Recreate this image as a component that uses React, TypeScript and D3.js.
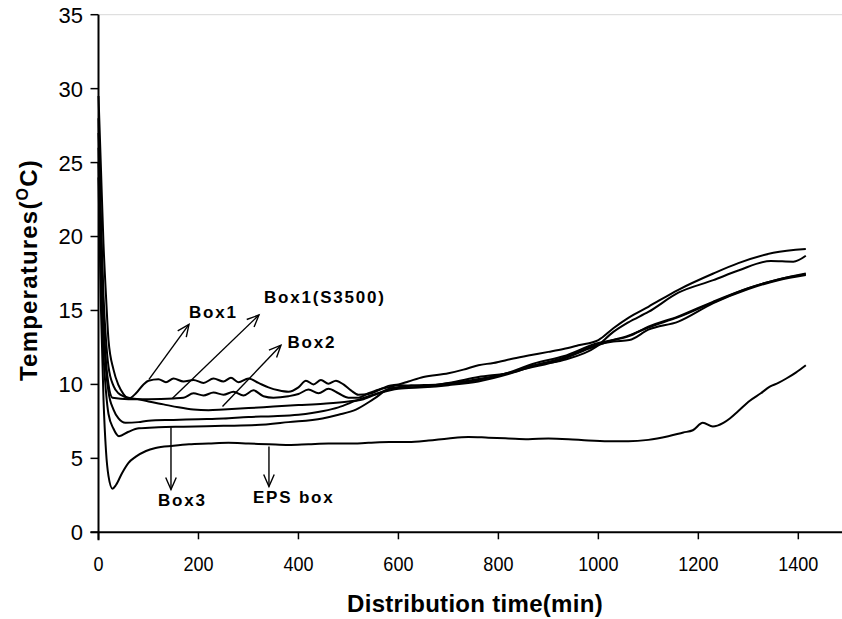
import React from 'react';
import * as d3 from 'd3';

type P = [number, number];

const xTicks = [0, 200, 400, 600, 800, 1000, 1200, 1400];
const yTicks = [0, 5, 10, 15, 20, 25, 30, 35];

const box1: P[] = [
  [0, 29.5], [5, 24.5], [10, 19.5], [15, 16], [20, 13], [30, 11], [40, 9.95], [50, 9.35], [60, 9.05],
  [75, 9.4], [90, 10.0], [100, 10.25], [120, 10.35], [135, 10.15], [150, 10.4], [170, 10.2],
  [190, 10.3], [210, 10.1], [230, 10.4], [250, 10.2], [265, 10.45], [280, 10.15], [300, 10.4],
  [320, 10.1], [340, 9.8], [360, 9.6], [380, 9.5], [400, 9.8], [415, 10.25], [430, 10.0],
  [445, 10.3], [460, 10.05], [475, 10.25], [490, 10.0], [505, 9.6], [520, 9.3], [540, 9.35],
  [560, 9.6], [580, 9.9], [600, 10.0], [620, 10.2], [650, 10.5], [700, 10.75], [730, 11.0],
  [760, 11.3], [790, 11.45], [830, 11.75], [860, 11.95], [900, 12.2], [930, 12.4], [960, 12.65],
  [1000, 13.0], [1030, 13.8], [1060, 14.5], [1100, 15.25], [1160, 16.4], [1230, 17.5],
  [1280, 18.2], [1350, 18.9], [1415, 19.15],
];

const box1S3500: P[] = [
  [0, 28], [5, 20], [10, 14.5], [15, 11.5], [20, 10.0], [28, 9.1], [60, 9.0], [100, 9.0],
  [150, 9.05], [170, 9.1], [190, 9.4], [210, 9.25], [230, 9.45], [250, 9.3], [270, 9.5],
  [290, 9.25], [310, 9.6], [330, 9.2], [350, 9.1], [380, 9.2], [400, 9.35], [420, 9.65],
  [440, 9.4], [460, 9.7], [480, 9.4], [500, 9.1], [520, 9.1], [540, 9.4], [560, 9.65],
  [580, 9.8], [600, 9.95], [650, 9.9], [700, 10.1], [760, 10.5], [830, 10.85], [860, 11.2],
  [930, 11.65], [996, 12.55], [1030, 13.55], [1060, 14.2], [1100, 14.9], [1160, 16.2],
  [1230, 17.05], [1280, 17.7], [1345, 18.35], [1390, 18.3], [1415, 18.7],
];

const box2: P[] = [
  [0, 27], [5, 21], [10, 16], [15, 13], [20, 11.2], [30, 9.9], [40, 9.4], [50, 9.2], [60, 9.1],
  [80, 9.0], [100, 8.85], [130, 8.65], [160, 8.45], [190, 8.3], [220, 8.25], [250, 8.3],
  [300, 8.4], [350, 8.5], [400, 8.6], [450, 8.7], [500, 8.85], [530, 9.0], [560, 9.4],
  [590, 9.75], [620, 9.8], [650, 9.85], [700, 10.0], [760, 10.3], [820, 10.8], [870, 11.4],
  [930, 11.9], [1000, 12.8], [1030, 13.0], [1060, 13.25], [1100, 13.9], [1160, 14.6],
  [1230, 15.6], [1300, 16.5], [1360, 17.1], [1415, 17.45],
];

const box4: P[] = [
  [0, 26], [5, 19], [10, 14], [15, 11], [20, 9.5], [30, 8.3], [40, 7.7], [54, 7.4], [80, 7.45],
  [100, 7.55], [150, 7.6], [200, 7.65], [250, 7.7], [300, 7.8], [350, 7.85], [400, 7.95],
  [450, 8.2], [480, 8.45], [515, 8.9], [540, 9.2], [560, 9.4], [600, 9.7], [650, 9.8],
  [700, 9.95], [760, 10.2], [820, 10.7], [870, 11.25], [930, 11.8], [1000, 12.7], [1030, 12.9],
  [1062, 13.0], [1100, 13.7], [1160, 14.25], [1230, 15.5], [1300, 16.45], [1360, 17.05],
  [1415, 17.4],
];

const box3: P[] = [
  [0, 25], [5, 17], [10, 12], [15, 9.5], [20, 8.0], [30, 7.0], [41, 6.5], [60, 6.8], [81, 7.03],
  [120, 7.1], [170, 7.14], [250, 7.2], [315, 7.25], [380, 7.45], [448, 7.7], [480, 7.95],
  [515, 8.3], [550, 9.0], [582, 9.7], [620, 9.9], [680, 10.0], [740, 10.25], [800, 10.6],
  [860, 11.1], [920, 11.6], [980, 12.4], [1020, 12.9], [1060, 13.3], [1100, 13.85],
  [1160, 14.55], [1230, 15.55], [1300, 16.5], [1360, 17.1], [1415, 17.5],
];

const epsBox: P[] = [
  [0, 24], [5, 15], [10, 9], [15, 5.5], [20, 3.8], [28, 2.95], [35, 3.2], [47, 4.0], [60, 4.7],
  [74, 5.1], [95, 5.5], [114, 5.7], [150, 5.85], [181, 5.95], [220, 6.0], [260, 6.05],
  [300, 6.0], [341, 5.95], [380, 5.9], [420, 5.95], [460, 6.0], [500, 6.0], [540, 6.05],
  [582, 6.1], [620, 6.1], [660, 6.2], [700, 6.35], [740, 6.45], [780, 6.4], [820, 6.35],
  [860, 6.3], [900, 6.35], [940, 6.3], [980, 6.2], [1020, 6.15], [1060, 6.15], [1100, 6.25],
  [1140, 6.5], [1170, 6.75], [1189, 6.9], [1209, 7.4], [1229, 7.15], [1250, 7.4], [1263, 7.7],
  [1280, 8.2], [1303, 8.9], [1325, 9.4], [1343, 9.85], [1360, 10.1], [1376, 10.4],
  [1395, 10.8], [1415, 11.3],
];

const seriesList: P[][] = [box1, box1S3500, box2, box4, box3, epsBox];

const arrowList = [
  { t1: 101, v1: 10.34, t2: 181, v2: 14.06 },
  { t1: 148, v1: 9.06, t2: 321, v2: 14.69 },
  { t1: 248, v1: 8.5, t2: 365, v2: 12.65 },
  { t1: 145, v1: 7.1, t2: 145, v2: 2.9 },
  { t1: 341, v1: 5.8, t2: 341, v2: 3.1 },
];

const labelList = [
  { text: 'Box1', t: 181, v: 14.5 },
  { text: 'Box1(S3500)', t: 331, v: 15.5 },
  { text: 'Box2', t: 378, v: 12.45 },
  { text: 'Box3', t: 119, v: 1.8 },
  { text: 'EPS box', t: 309, v: 1.95 },
];

export default function App() {
  const x = d3.scaleLinear().domain([0, 1500]).range([98.5, 848.3]);
  const y = d3.scaleLinear().domain([0, 35]).range([532.3, 14.7]);
  const line = d3
    .line<P>()
    .x((d) => x(d[0]))
    .y((d) => y(d[1]))
    .curve(d3.curveMonotoneX);

  const font = 'Arial, "Liberation Sans", sans-serif';
  const headLen = 13;
  const phi = (24 * Math.PI) / 180;

  return (
    <svg
      width={842}
      height={619}
      style={{ position: 'absolute', left: 0, top: 0, background: '#fff' }}
      fontFamily={font}
    >
      <rect x={0} y={0} width={842} height={619} fill="#fff" />
      <line x1={x(0)} x2={842} y1={y(35)} y2={y(35)} stroke="#d8d8d8" strokeWidth={1} />
      <line x1={x(0)} x2={x(0)} y1={y(35)} y2={y(0) + 8} stroke="#000" strokeWidth={2} />
      <line x1={x(0) - 8} x2={842} y1={y(0)} y2={y(0)} stroke="#000" strokeWidth={2} />
      {yTicks.map((v) => (
        <g key={'y' + v}>
          <line x1={x(0) - 8} x2={x(0)} y1={y(v)} y2={y(v)} stroke="#000" strokeWidth={1.5} />
          <text x={83} y={y(v)} dy="0.36em" textAnchor="end" fontSize={22} fill="#000">
            {v}
          </text>
        </g>
      ))}
      {xTicks.map((v) => (
        <g key={'x' + v}>
          <line x1={x(v)} x2={x(v)} y1={y(0)} y2={y(0) + 7} stroke="#000" strokeWidth={1.5} />
          <text
            transform={`translate(${x(v)},571) scale(0.86,1)`}
            textAnchor="middle"
            fontSize={21}
            fill="#000"
          >
            {v}
          </text>
        </g>
      ))}
      <text x={475} y={612} textAnchor="middle" fontSize={24} fontWeight="bold" letterSpacing={0.3} fill="#000">
        Distribution time(min)
      </text>
      <text
        transform="translate(37,270) rotate(-90)"
        textAnchor="middle"
        fontSize={24}
        fontWeight="bold"
        letterSpacing={1.2}
        fill="#000"
      >
        Temperatures(
        <tspan fontSize={16} dy={-9}>O</tspan>
        <tspan dy={9}>C)</tspan>
      </text>
      {seriesList.map((s, i) => (
        <path key={'s' + i} d={line(s) || ''} fill="none" stroke="#000" strokeWidth={2} strokeLinejoin="round" />
      ))}
      {arrowList.map((a, i) => {
        const x1 = x(a.t1), y1 = y(a.v1), x2 = x(a.t2), y2 = y(a.v2);
        const ang = Math.atan2(y2 - y1, x2 - x1);
        const hx1 = x2 - headLen * Math.cos(ang - phi);
        const hy1 = y2 - headLen * Math.sin(ang - phi);
        const hx2 = x2 - headLen * Math.cos(ang + phi);
        const hy2 = y2 - headLen * Math.sin(ang + phi);
        return (
          <g key={'a' + i} stroke="#000" strokeWidth={1.4} fill="none">
            <line x1={x1} y1={y1} x2={x2} y2={y2} />
            <polyline points={`${hx1},${hy1} ${x2},${y2} ${hx2},${hy2}`} />
          </g>
        );
      })}
      {labelList.map((l, i) => (
        <text
          key={'l' + i}
          x={x(l.t)}
          y={y(l.v)}
          fontSize={17}
          fontWeight="bold"
          letterSpacing={1.8}
          fill="#000"
        >
          {l.text}
        </text>
      ))}
    </svg>
  );
}
